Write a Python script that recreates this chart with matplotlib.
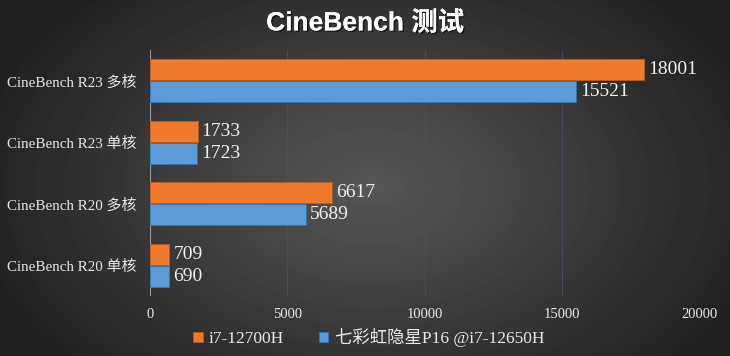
import numpy as np
import matplotlib
matplotlib.use("Agg")
import matplotlib.pyplot as plt
import matplotlib.patheffects as pe

# data
categories = ['CineBench R23 多核', 'CineBench R23 单核', 'CineBench R20 多核', 'CineBench R20 单核']
series_names = ['i7-12700H', '七彩虹隐星P16 @i7-12650H']
i7_12700h = [18001, 1733, 6617, 709]
p16_12650h = [15521, 1723, 5689, 690]
xticks = [0, 5000, 10000, 15000, 20000]

orange = '#EF7A2C'
blue = '#5A9BD8'
serif = ['Liberation Serif', 'Noto Sans CJK SC']

fig = plt.figure(figsize=(7.3, 3.56), dpi=100)

# radial gradient background
bg = fig.add_axes([0, 0, 1, 1], zorder=-10)
yy, xx = np.mgrid[-1:1:356j, -1:1:730j]
r = np.sqrt(((xx - 0.02) * 1.0) ** 2 + ((yy - 0.05) * 0.75) ** 2)
gray = np.clip(0.34 - 0.19 * r, 0.13, 0.34)
bg.imshow(gray, cmap='gray', vmin=0, vmax=1, aspect='auto', extent=[0, 1, 0, 1])
bg.set_axis_off()

ax = fig.add_axes([150 / 730, 1 - 296 / 356, 549 / 730, 246 / 356])
ax.patch.set_alpha(0)

y = np.arange(len(categories))
h = 0.34
b1 = ax.barh(y - h / 2 - 0.01, i7_12700h, height=h, color=orange, edgecolor='#b85a1c', linewidth=0.6, zorder=3)
b2 = ax.barh(y + h / 2 + 0.01, p16_12650h, height=h, color=blue, edgecolor='#3a74ab', linewidth=0.6, zorder=3)

for bars, vals in [(b1, i7_12700h), (b2, p16_12650h)]:
    for bar, v in zip(bars, vals):
        ax.text(bar.get_width() + 150, bar.get_y() + bar.get_height() / 2, str(v),
                va='center', ha='left', color='#f0f0f0', fontsize=14, family=serif)

ax.set_xlim(0, 20000)
ax.set_ylim(len(categories) - 0.5, -0.5)
ax.set_yticks(y)
ax.set_yticklabels(categories, family=serif, fontsize=10.8, color='#e8e8e8')
ax.set_xticks(xticks)
ax.set_xticklabels([str(t) for t in xticks], family=serif, fontsize=10.5, color='#e8e8e8')
ax.tick_params(axis='both', length=0)
ax.tick_params(axis='x', pad=9)
ax.tick_params(axis='y', pad=10)
for s in ax.spines.values():
    s.set_visible(False)
ax.axvline(0, color='#9a9a9a', lw=0.8, zorder=2)
ax.grid(axis='x', color='#44506a', lw=0.6, zorder=1)

fig.text(0.5, 0.935, 'CineBench 测试', ha='center', va='center', color='white', fontsize=19,
         fontweight='bold', family=['Liberation Sans', 'Noto Sans CJK SC'],
         path_effects=[pe.withSimplePatchShadow(offset=(1, -1), shadow_rgbFace='black', alpha=0.6), pe.Normal()])

leg = fig.legend([b1, b2], series_names, loc='center', bbox_to_anchor=(0.505, 0.052), ncol=2,
                 frameon=False, handlelength=0.55, handleheight=0.55, handletextpad=0.35, columnspacing=2.0,
                 prop={'family': serif, 'size': 12.5})
for t in leg.get_texts():
    t.set_color('#e8e8e8')

fig.savefig('out.png', dpi=100)
